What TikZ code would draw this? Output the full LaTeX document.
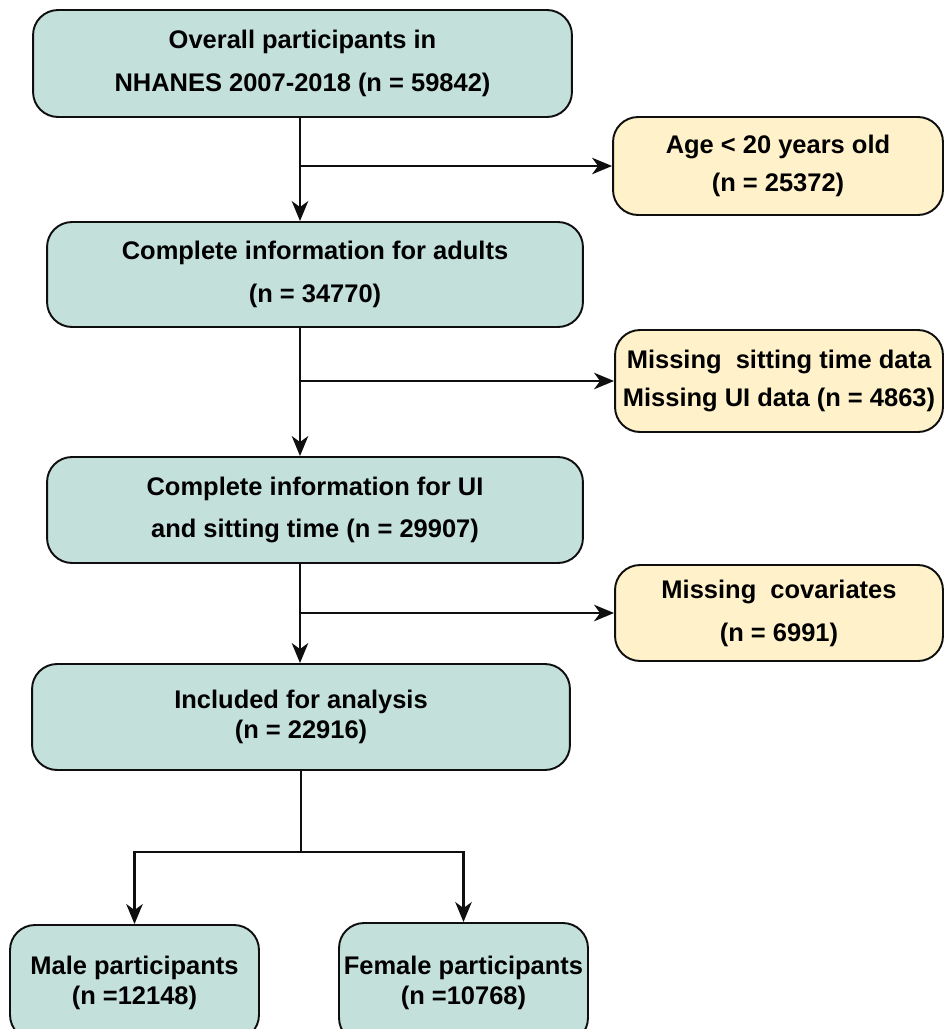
\documentclass[tikz,border=0pt]{standalone}
\usepackage{fontspec}
\setmainfont{Liberation Sans}
\usepackage{tikz}
\usetikzlibrary{arrows.meta, positioning, calc}
\definecolor{stageteal}{RGB}{196, 224, 219}
\definecolor{excludeyellow}{RGB}{255, 241, 201}
\definecolor{edgegray}{RGB}{15, 15, 15}

\begin{document}
\begin{tikzpicture}[
    x=0.02cm, y=-0.02cm,
    stage/.style={rectangle, draw=edgegray, fill=stageteal, line width=1.1pt,
                  rounded corners=0.5cm, align=center, inner sep=0pt,
                  font=\fontsize{14.5}{17}\selectfont\bfseries},
    exclude/.style={stage, fill=excludeyellow},
    arrow/.style={-{Stealth[length=4mm, width=3.3mm, inset=1.2mm]}, line width=1.2pt, edgegray},
    link/.style={line width=1.2pt, edgegray}
]
\clip (0,0) rectangle (945,1029);

% Main stages
\node[stage, minimum width=10.78cm, minimum height=2.14cm] (overall) at (302.5,63.5)
    {Overall participants in\\[7.5pt]NHANES 2007-2018 (n = 59842)};
\node[stage, minimum width=10.72cm, minimum height=2.1cm] (adults) at (315,274.5)
    {Complete information for adults\\[7.5pt](n = 34770)};
\node[stage, minimum width=10.72cm, minimum height=2.12cm] (uitime) at (315,510)
    {Complete information for UI\\[7pt]and sitting time (n = 29907)};
\node[stage, minimum width=10.76cm, minimum height=2.12cm] (included) at (301,717)
    {Included for analysis\\(n = 22916)};

% Exclusions
\node[exclude, minimum width=6.6cm, minimum height=1.96cm] (young) at (778,166)
    {Age < 20 years old\\[5pt](n = 25372)};
\node[exclude, minimum width=6.56cm, minimum height=2.04cm] (nodata) at (779,381)
    {Missing\ \ sitting time data\\[5pt]Missing UI data (n = 4863)};
\node[exclude, minimum width=6.56cm, minimum height=1.92cm] (nocov) at (779,613)
    {Missing\ \ covariates\\[7.5pt](n = 6991)};

% Subgroups
\node[stage, minimum width=4.98cm, minimum height=2.3cm] (male) at (134.5,982.5)
    {Male participants\\(n =12148)};
\node[stage, minimum width=4.98cm, minimum height=2.4cm] (female) at (463.5,983)
    {Female participants\\(n =10768)};

% Flow
\coordinate (spine) at (300,0);
\coordinate (split) at (301,852);
\draw[arrow] (overall.south -| spine) -- (adults.north -| spine);
\draw[arrow] (young.west -| spine) -- (young.west);
\draw[arrow] (adults.south -| spine) -- (uitime.north -| spine);
\draw[arrow] (nodata.west -| spine) -- (nodata.west);
\draw[arrow] (uitime.south -| spine) -- (included.north -| spine);
\draw[arrow] (nocov.west -| spine) -- (nocov.west);

\draw[link] (included.south) -- (split);
\draw[arrow] (split) -| (male.north);
\draw[arrow] (split) -| (female.north);

\end{tikzpicture}
\end{document}
